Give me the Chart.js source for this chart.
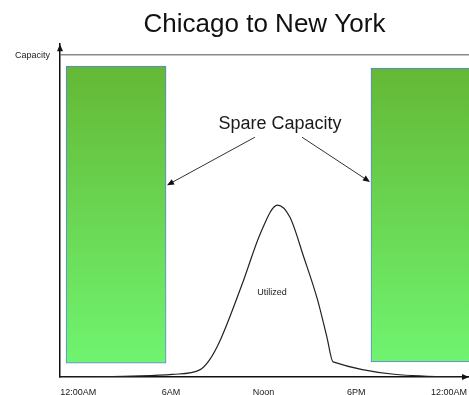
<!DOCTYPE html>
<html>
<head>
<meta charset="utf-8">
<script src="https://cdn.jsdelivr.net/npm/chart.js@4/dist/chart.umd.min.js"></script>
<style>
html,body{margin:0;padding:0;background:#fff;}
#wrap{width:469px;height:395px;}
</style>
</head>
<body>
<div id="wrap"><canvas id="c" width="469" height="395"></canvas></div>
<script>
// ---- data ----
const tickHours = [0, 6, 12, 18, 24];
const tickLabels = ['12:00AM', '6AM', 'Noon', '6PM', '12:00AM'];
const yTickValues = [100];
const yTickLabels = ['Capacity'];

const spareCenters = [2.45, 22.19];   // hours
const spareLow = [4.3, 4.7];
const spareHigh = [96.6, 96.0];

const utilHours  = [-1.18, 3.5, 6.1, 7.9, 8.5, 9.2, 10.7, 11.8, 12.9, 13.7, 14.6, 15.5, 16.1, 16.5, 25.2];
const utilValues = [0, 0.3, 0.8, 2.3, 5.3, 11.5, 30, 44.7, 53.4, 49.7, 37.3, 23.9, 12.4, 4.7, 0];

const spareLabel = {text: 'Spare Capacity', x: 13.06, y: 78.6};
const spareArrows = [
  {from: [11.44, 74.5], to: [5.75, 59.6]},
  {from: [14.49, 74.5], to: [18.89, 60.6]}
];
const utilLabel = {text: 'Utilized', x: 12.54, y: 26.4};

// ---- chart ----
const FONT = "'Liberation Sans', Arial, Helvetica, sans-serif";

function arrowHead(ctx, x, y, angle, len, half) {
  ctx.save();
  ctx.translate(x, y);
  ctx.rotate(angle);
  ctx.beginPath();
  ctx.moveTo(0, 0);
  ctx.lineTo(-len, -half);
  ctx.lineTo(-len, half);
  ctx.closePath();
  ctx.fill();
  ctx.restore();
}

const annotations = {
  id: 'annotations',
  afterDraw(chart) {
    const ctx = chart.ctx, xs = chart.scales.x, ys = chart.scales.y, ca = chart.chartArea;
    ctx.save();
    ctx.fillStyle = '#111';
    ctx.strokeStyle = '#111';
    // axis arrowheads
    arrowHead(ctx, ca.left, ca.top, -Math.PI / 2, 7, 3);
    arrowHead(ctx, ca.right, ca.bottom, 0, 7, 3);
    // texts
    ctx.fillStyle = '#1a1a1a';
    ctx.textAlign = 'center';
    ctx.textBaseline = 'middle';
    ctx.font = '18px ' + FONT;
    ctx.fillText(spareLabel.text, xs.getPixelForValue(spareLabel.x), ys.getPixelForValue(spareLabel.y));
    ctx.font = '9px ' + FONT;
    ctx.fillText(utilLabel.text, xs.getPixelForValue(utilLabel.x), ys.getPixelForValue(utilLabel.y));
    // arrows
    ctx.strokeStyle = '#333';
    ctx.fillStyle = '#111';
    ctx.lineWidth = 1;
    spareArrows.forEach(a => {
      const x1 = xs.getPixelForValue(a.from[0]), y1 = ys.getPixelForValue(a.from[1]);
      const x2 = xs.getPixelForValue(a.to[0]), y2 = ys.getPixelForValue(a.to[1]);
      const ang = Math.atan2(y2 - y1, x2 - x1);
      ctx.beginPath();
      ctx.moveTo(x1, y1);
      ctx.lineTo(x2 - Math.cos(ang) * 5, y2 - Math.sin(ang) * 5);
      ctx.stroke();
      arrowHead(ctx, x2, y2, ang, 7, 3);
    });
    ctx.restore();
  }
};

new Chart(document.getElementById('c'), {
  type: 'line',
  data: {
    datasets: [
      {
        type: 'line',
        data: utilHours.map((x, i) => ({x, y: utilValues[i]})),
        borderColor: '#222',
        borderWidth: 1.2,
        pointRadius: 0,
        fill: false,
        cubicInterpolationMode: 'monotone',
        order: 1
      },
      {
        type: 'bar',
        data: spareCenters.map((x, i) => ({x, y: [spareLow[i], spareHigh[i]]})),
        barThickness: 100,
        borderWidth: 1,
        borderColor: '#5f7fe8',
        borderSkipped: false,
        backgroundColor: (c) => {
          const chart = c.chart;
          const ys = chart.scales.y;
          if (!ys || !chart.chartArea) return '#6ad456';
          const g = chart.ctx.createLinearGradient(0, ys.getPixelForValue(96.6), 0, ys.getPixelForValue(4.3));
          g.addColorStop(0, '#64b835');
          g.addColorStop(1, '#70f470');
          return g;
        },
        order: 2
      }
    ]
  },
  options: {
    responsive: false,
    animation: false,
    devicePixelRatio: 1,
    layout: {padding: 0},
    plugins: {
      legend: {display: false},
      tooltip: {enabled: false},
      title: {
        display: true,
        text: 'Chicago to New York',
        fullSize: false,
        color: '#111',
        font: {family: FONT, size: 26, weight: 'normal', lineHeight: 1.2},
        padding: {top: 9, bottom: 4}
      }
    },
    scales: {
      x: {
        type: 'linear',
        min: -1.18,
        max: 25.3,
        offset: false,
        afterFit: s => { s.height = 18; s.paddingLeft = 0; s.paddingRight = 0; },
        afterBuildTicks: s => { s.ticks = tickHours.map(v => ({value: v})); },
        ticks: {
          autoSkip: false,
          maxRotation: 0,
          padding: 10,
          color: '#1a1a1a',
          font: {family: FONT, size: 9},
          callback: (v) => tickLabels[tickHours.indexOf(v)]
        },
        grid: {display: false, drawTicks: false},
        border: {display: true, color: '#111', width: 1.5}
      },
      y: {
        type: 'linear',
        min: 0,
        max: 103.4,
        afterFit: s => { s.width = 60; s.paddingTop = 0; s.paddingBottom = 0; },
        afterBuildTicks: s => { s.ticks = yTickValues.map(v => ({value: v})); },
        ticks: {
          padding: 10,
          color: '#1a1a1a',
          font: {family: FONT, size: 9},
          callback: (v) => yTickLabels[yTickValues.indexOf(v)]
        },
        grid: {display: true, drawTicks: false, color: '#8a8a8a', lineWidth: 1.5},
        border: {display: true, color: '#111', width: 1.5}
      }
    }
  },
  plugins: [annotations]
});
</script>
</body>
</html>
